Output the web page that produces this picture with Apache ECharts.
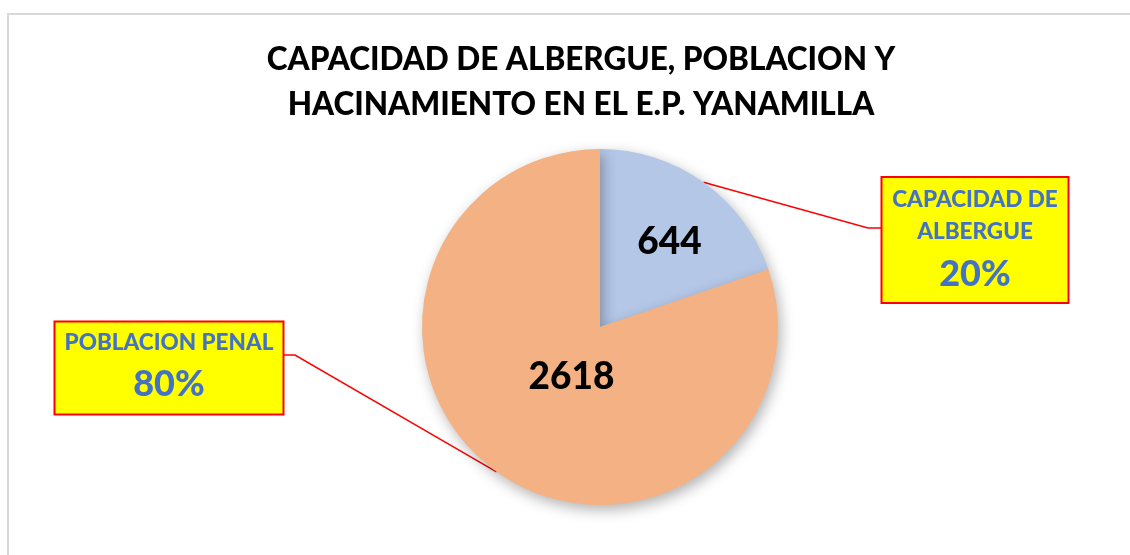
<!DOCTYPE html>
<html>
<head>
<meta charset="utf-8">
<script src="https://cdn.jsdelivr.net/npm/echarts@6/dist/echarts.min.js"></script>
<style>
    html, body { margin: 0; padding: 0; background: #fff; }
    #chart { width: 1130px; height: 555px; }
</style>
</head>
<body>
<div id="chart"></div>
<script>
    // datos
    const categories = ['CAPACIDAD DE\nALBERGUE', 'POBLACION PENAL'];
    const values = [644, 2618];
    const colors = ['#B4C7E7', '#F4B183'];

    // posiciones de las cajas de etiqueta (layout, no datos)
    const boxLayout = [
        {x: 975, y: 240, bend: [868, 228], end: [883, 228], width: 165, padding: [6, 10, 2, 10]},
        {x: 169, y: 368, bend: [295, 355], end: [283, 355], width: 207, padding: [4, 10, 3, 10]}
    ];
    // ajuste de las etiquetas internas
    const innerShift = [[16, -10], [25, -25]];

    const font = 'Lato, "Open Sans", sans-serif';

    let chart = echarts.init(document.getElementById('chart'));

    const innerData = values.map((v, i) => ({
        value: v, name: categories[i], itemStyle: {color: colors[i]}
    }));
    const outerData = values.map((v, i) => ({
        value: v, name: categories[i],
        label: {width: boxLayout[i].width, padding: boxLayout[i].padding}
    }));

    chart.setOption({
        animation: false,
        title: {
            text: 'CAPACIDAD DE ALBERGUE, POBLACION Y\nHACINAMIENTO EN EL E.P. YANAMILLA',
            left: 576,
            top: 32,
            textAlign: 'center',
            textStyle: {
                fontFamily: font,
                fontSize: 31.5,
                fontWeight: 900,
                color: '#000',
                lineHeight: 45
            }
        },
        graphic: [{
            type: 'rect',
            shape: {x: 8, y: 14, width: 1200, height: 600},
            style: {fill: 'none', stroke: '#d9d9d9', lineWidth: 2},
            silent: true
        }],
        series: [
            {
                type: 'pie',
                center: [600, 327],
                radius: 178,
                startAngle: 90,
                clockwise: true,
                silent: true,
                data: innerData,
                itemStyle: {
                    shadowBlur: 14,
                    shadowColor: 'rgba(0,0,0,0.3)',
                    shadowOffsetX: 3,
                    shadowOffsetY: 5
                },
                label: {
                    position: 'inside',
                    formatter: '{c}',
                    fontFamily: font,
                    fontSize: 37,
                    fontWeight: 900,
                    color: '#000'
                },
                labelLayout: function (params) {
                    const s = innerShift[params.dataIndex];
                    return {dx: s[0], dy: s[1]};
                }
            },
            {
                type: 'pie',
                center: [600, 327],
                radius: 178,
                startAngle: 90,
                clockwise: true,
                silent: true,
                data: outerData,
                itemStyle: {color: 'rgba(0,0,0,0)'},
                label: {
                    position: 'outside',
                    backgroundColor: '#FFFF00',
                    borderColor: '#FF0000',
                    borderWidth: 2,
                    align: 'center',
                    overflow: 'none',
                    formatter: function (p) {
                        return '{n|' + p.name + '}\n{p|' + Math.round(p.percent) + '%}';
                    },
                    rich: {
                        n: {
                            fontFamily: font, fontSize: 22.5, fontWeight: 900,
                            color: '#4472C4', lineHeight: 32, align: 'center'
                        },
                        p: {
                            fontFamily: font, fontSize: 36, fontWeight: 900,
                            color: '#4472C4', lineHeight: 52, align: 'center'
                        }
                    }
                },
                labelLine: {
                    show: true,
                    lineStyle: {color: '#FF0000', width: 1.5}
                },
                labelLayout: function (params) {
                    const b = boxLayout[params.dataIndex];
                    const start = params.labelLinePoints ? params.labelLinePoints[0] : b.bend;
                    return {
                        x: b.x,
                        y: b.y,
                        align: 'center',
                        verticalAlign: 'middle',
                        labelLinePoints: [start, b.bend, b.end]
                    };
                }
            }
        ]
    });
</script>
</body>
</html>
